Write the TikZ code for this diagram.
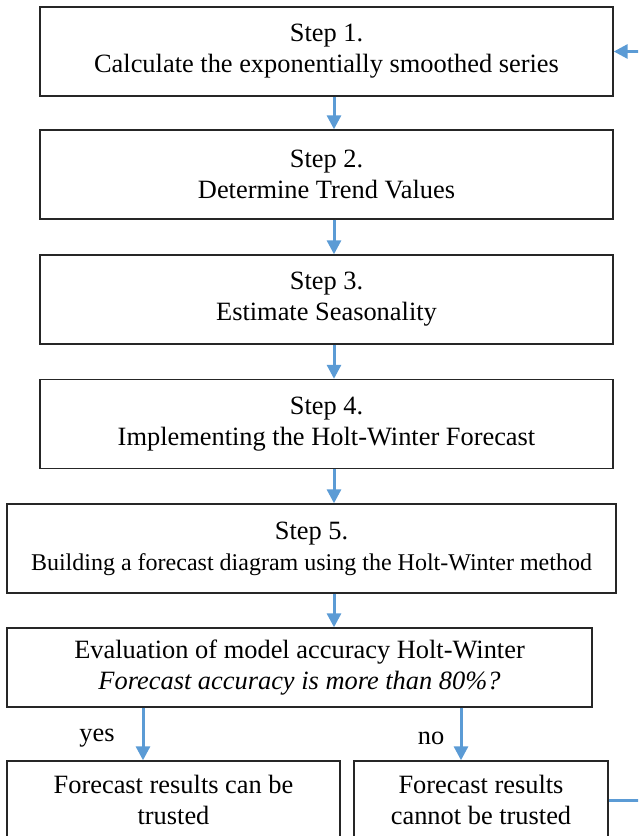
\documentclass[tikz,border=0pt]{standalone}
\usepackage{fontspec}
\setmainfont{Liberation Serif}
\usetikzlibrary{positioning,arrows.meta}

\definecolor{flowblue}{RGB}{91,155,213}

\begin{document}
\begin{tikzpicture}[
x=0.5pt, y=-0.5pt,
square/.style={rectangle, draw=black!85, fill=white, line width=0.7pt, inner sep=3pt, align=center, font=\fontsize{13.2}{15.5}\selectfont},
wide_square/.style={square, minimum width=286.5pt, minimum height=44.5pt},
out_arrow/.style={-{Triangle[width=7pt,length=7pt]}, draw=flowblue, line width=1.5pt},
branch_text/.style={font=\fontsize{13.2}{15.5}\selectfont}
]

\clip (0,0) rectangle (638,836);

\node[wide_square](step_one) at (326.5,51.5) {Step 1.\\Calculate the exponentially smoothed series};
\node[wide_square](step_two) at (326.5,174.5) {Step 2.\\Determine Trend Values};
\node[wide_square](step_three) at (326.5,299.5) {Step 3.\\Estimate Seasonality};
\node[wide_square](step_four) at (326.5,424) {Step 4.\\Implementing the Holt-Winter Forecast};
\node[square, minimum width=304.5pt, minimum height=44.5pt](step_five) at (311.5,548.5) {Step 5.\\{\fontsize{12}{15.5}\selectfont Building a forecast diagram using the Holt-Winter method}};

\node[square, minimum width=292.5pt, minimum height=39.5pt](evaluation) at (299.5,667.5) {Evaluation of model accuracy Holt-Winter\\\textit{Forecast accuracy is more than 80\%?}};

\node[square, minimum width=166.5pt, minimum height=39pt](trusted) at (173.5,800) {Forecast results can be\\trusted};
\node[square, minimum width=127pt, minimum height=39pt](not_trusted) at (481,800) {Forecast results\\cannot be trusted};

\node[branch_text](yes_text) at (97,738) {yes};
\node[branch_text](no_text) at (431,738) {no};

\coordinate (arrow_x) at (334,0);
\coordinate (yes_x) at (143,0);
\coordinate (no_x) at (461,0);
\coordinate (loop_x) at (660,0);

\draw[out_arrow](step_one.south -| arrow_x) -- (step_two.north -| arrow_x);
\draw[out_arrow](step_two.south -| arrow_x) -- (step_three.north -| arrow_x);
\draw[out_arrow](step_three.south -| arrow_x) -- (step_four.north -| arrow_x);
\draw[out_arrow](step_four.south -| arrow_x) -- (step_five.north -| arrow_x);
\draw[out_arrow](step_five.south -| arrow_x) -- (evaluation.north -| arrow_x);

\draw[out_arrow](evaluation.south -| yes_x) -- (trusted.north -| yes_x);
\draw[out_arrow](evaluation.south -| no_x) -- (not_trusted.north -| no_x);

% back to step 1
\draw[out_arrow](not_trusted.east) -- (not_trusted.east -| loop_x) |- (step_one.east);
\end{tikzpicture}
\end{document}
